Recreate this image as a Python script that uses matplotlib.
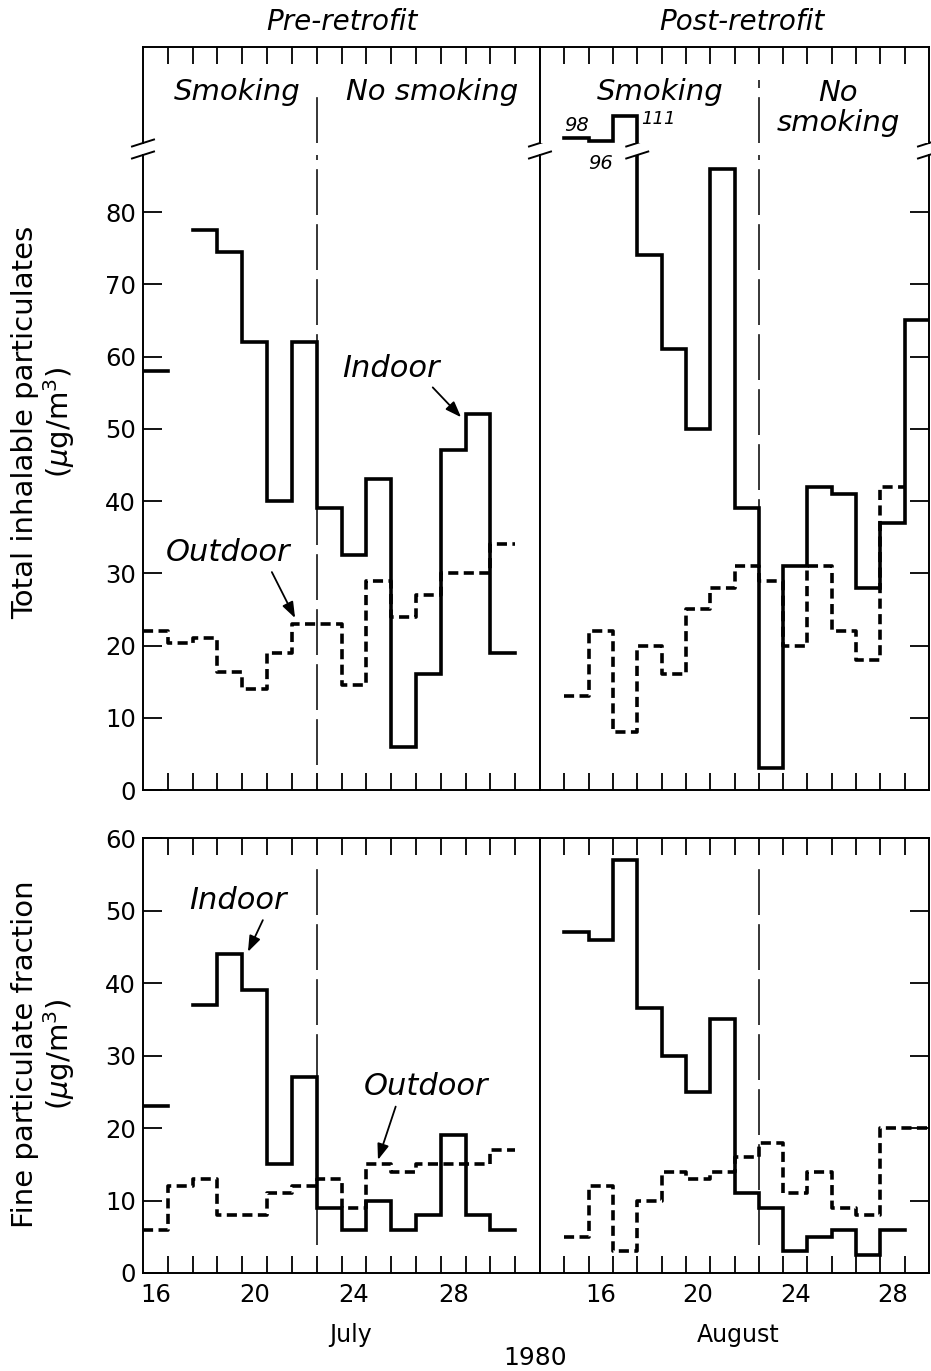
import numpy as np
import matplotlib.pyplot as plt
from matplotlib.lines import Line2D

plt.rcParams['font.family'] = 'DejaVu Sans'

# --------------------------------------------------------------
# Data (daily values, each value spans [day, day + 1])
# --------------------------------------------------------------

jul_days = np.arange(16, 31)
jul_tip_in = [58, np.nan, 77.5, 74.5, 62, 40, 62, 39, 32.5, 43, 6, 16, 47, 52, 19]
jul_tip_out = [22, 20.3, 21, 16.3, 14, 19, 23, 23, 14.5, 29, 24, 27, 30, 30, 34]
jul_fine_in = [23, np.nan, 37, 44, 39, 15, 27, 9, 6, 10, 6, 8, 19, 8, 6]
jul_fine_out = [6, 12, 13, 8, 8, 11, 12, 13, 9, 15, 14, 15, 15, 15, 17]

aug_days = np.arange(15, 30)
aug_tip_in = [98, 96, 111, 74, 61, 50, 86, 39, 3, 31, 42, 41, 28, 37, 65]
aug_tip_out = [13, 22, 8, 20, 16, 25, 28, 31, 29, 20, 31, 22, 18, 42, np.nan]
aug_fine_in = [47, 46, 57, 36.5, 30, 25, 35, 11, 9, 3, 5, 6, 2.5, 6, np.nan]
aug_fine_out = [5, 12, 3, 10, 14, 13, 14, 16, 18, 11, 14, 9, 8, 20, 20]

switch_day = 23
label_days = [16, 20, 24, 28]
jul_lim = (16, 32)
aug_lim = (14, 30)

# --------------------------------------------------------------
# Layout
# --------------------------------------------------------------

W, H = 931, 1371
fig = plt.figure(figsize=(W / 100, H / 100), dpi=100)


def box(x0, x1, y0, y1):
    # pixel box measured from the top-left corner -> figure rect
    return [x0 / W, 1 - y1 / H, (x1 - x0) / W, (y1 - y0) / H]


def px(x, y):
    return x / W, 1 - y / H


ax_tl_up = fig.add_axes(box(143, 540, 47, 143))
ax_tr_up = fig.add_axes(box(540, 929, 47, 143))
ax_tl = fig.add_axes(box(143, 540, 155, 790))
ax_tr = fig.add_axes(box(540, 929, 155, 790))
ax_bl = fig.add_axes(box(143, 540, 838, 1273))
ax_br = fig.add_axes(box(540, 929, 838, 1273))
ax_tr_up.set_zorder(3)  # keep the "96" label above the lower panel

IN = dict(color='k', lw=2.6, solid_joinstyle='miter')
OUT = dict(color='k', lw=2.6, ls=(0, (2.8, 1.5)), dash_capstyle='butt')
SEP = dict(color='k', lw=1.1, ls=(0, (30, 6)))
ARW = dict(arrowstyle='-|>,head_length=0.6,head_width=0.22', color='k',
           lw=1.3, shrinkA=2, shrinkB=0, mutation_scale=16)


def draw_steps(ax, days, vals, **kw):
    x = np.append(days, days[-1] + 1)
    y = np.append(vals, vals[-1])
    ax.step(x, y, where='post', **kw)


def setup(ax, xlim, top, bottom):
    ax.set_xlim(xlim)
    ax.set_xticks(np.arange(xlim[0] + 1, xlim[1]))
    ax.tick_params(axis='x', which='major', direction='in', length=12, width=1.3,
                   top=top, bottom=bottom, labelbottom=False)
    for s in ax.spines.values():
        s.set_linewidth(1.4)


# upper strip of the broken top panel
top_max = 87.9
for ax, lim in [(ax_tl_up, jul_lim), (ax_tr_up, aug_lim)]:
    setup(ax, lim, top=True, bottom=False)
    ax.set_ylim(95, 152)
    ax.set_yticks([])
    ax.spines['bottom'].set_visible(False)

# total inhalable particulates
for ax, lim in [(ax_tl, jul_lim), (ax_tr, aug_lim)]:
    setup(ax, lim, top=False, bottom=True)
    ax.set_ylim(0, top_max)
    ax.set_yticks(range(0, 81, 10))
    ax.spines['top'].set_visible(False)

# fine particulate fraction
for ax, lim in [(ax_bl, jul_lim), (ax_br, aug_lim)]:
    setup(ax, lim, top=True, bottom=True)
    ax.set_ylim(0, 60)
    ax.set_yticks(range(0, 61, 10))
    ax.set_xticks([d + 0.5 for d in label_days], labels=[str(d) for d in label_days], minor=True)
    ax.tick_params(axis='x', which='minor', length=0, pad=7, labelsize=17.5)

for ax in [ax_tl, ax_bl]:
    ax.tick_params(axis='y', direction='in', length=14, width=1.3, labelsize=17.5, pad=5)
for ax in [ax_tr, ax_br]:
    ax.tick_params(axis='y', direction='in', length=14, width=1.3,
                   left=False, right=True, labelleft=False)

# --------------------------------------------------------------
# Series
# --------------------------------------------------------------

draw_steps(ax_tl, jul_days, jul_tip_in, **IN)
draw_steps(ax_tl, jul_days, jul_tip_out, **OUT)
draw_steps(ax_tr_up, aug_days, aug_tip_in, **IN)
draw_steps(ax_tr, aug_days, aug_tip_in, **IN)
draw_steps(ax_tr, aug_days, aug_tip_out, **OUT)
draw_steps(ax_bl, jul_days, jul_fine_in, **IN)
draw_steps(ax_bl, jul_days, jul_fine_out, **OUT)
draw_steps(ax_br, aug_days, aug_fine_in, **IN)
draw_steps(ax_br, aug_days, aug_fine_out, **OUT)

# smoking / no smoking separators
ax_tl_up.axvline(switch_day, 0, 0.48, **SEP)
ax_tr_up.axvline(switch_day, 0, 0.66, **SEP)
for ax in [ax_tl, ax_tr]:
    ax.axvline(switch_day, 0.04, 1, **SEP)
for ax in [ax_bl, ax_br]:
    ax.axvline(switch_day, 0.064, 0.95, **SEP)

# values above the break
ax_tr_up.annotate('98', (aug_days[0] + 0.5, aug_tip_in[0]), xytext=(0, 9),
                  textcoords='offset points', ha='center', va='center',
                  fontsize=14, style='italic')
ax_tr_up.annotate('96', (aug_days[1] + 0.5, aug_tip_in[1]), xytext=(0, -16),
                  textcoords='offset points', ha='center', va='center',
                  fontsize=14, style='italic')
ax_tr_up.annotate('111', (aug_days[2] + 1, aug_tip_in[2]), xytext=(15, -2),
                  textcoords='offset points', ha='center', va='center',
                  fontsize=13, style='italic')

# --------------------------------------------------------------
# Axis breaks
# --------------------------------------------------------------

cross_day = aug_days[np.argmax(np.array(aug_tip_in) < top_max)]
cross_x = ax_tr.transData.transform((cross_day, 0))[0]
for x in [143, 540, 929, cross_x]:
    for y in [143, 155]:
        fig.add_artist(Line2D([(x - 11) / W, (x + 11) / W],
                              [1 - (y + 3.5) / H, 1 - (y - 3.5) / H],
                              transform=fig.transFigure, color='k', lw=1.4))

# --------------------------------------------------------------
# Text
# --------------------------------------------------------------

it = dict(ha='center', va='center', style='italic')
ax_tl_up.text(0.5, 1.26, 'Pre-retrofit', transform=ax_tl_up.transAxes, fontsize=20, **it)
ax_tr_up.text(0.52, 1.26, 'Post-retrofit', transform=ax_tr_up.transAxes, fontsize=20, **it)
ax_tl_up.text(0.237, 0.53, 'Smoking', transform=ax_tl_up.transAxes, fontsize=21, **it)
ax_tl_up.text(0.728, 0.53, 'No smoking', transform=ax_tl_up.transAxes, fontsize=21, **it)
ax_tr_up.text(0.308, 0.53, 'Smoking', transform=ax_tr_up.transAxes, fontsize=21, **it)
ax_tr_up.text(0.766, 0.365, 'No\nsmoking', transform=ax_tr_up.transAxes, fontsize=21,
              linespacing=1.1, **it)

ax_tl.annotate('Indoor', xy=(28.82, 51.6), xytext=(26.0, 58.4), fontsize=22,
               arrowprops=dict(ARW, relpos=(0.88, 0)), **it)
ax_tl.annotate('Outdoor', xy=(22.13, 23.8), xytext=(19.43, 32.9), fontsize=22,
               arrowprops=dict(ARW, relpos=(0.83, 0)), **it)
ax_bl.annotate('Indoor', xy=(20.23, 44.3), xytext=(19.83, 51.4), fontsize=22,
               arrowprops=dict(ARW, relpos=(0.78, 0)), **it)
ax_bl.annotate('Outdoor', xy=(25.47, 15.6), xytext=(27.41, 25.7), fontsize=22,
               arrowprops=dict(ARW, relpos=(0.27, 0)), **it)

fig.text(*px(44, 422), 'Total inhalable particulates\n($\\mu$g/m$^3$)', rotation=90,
         ha='center', va='center', multialignment='center', fontsize=21, linespacing=1.1)
fig.text(*px(44, 1054), 'Fine particulate fraction\n($\\mu$g/m$^3$)', rotation=90,
         ha='center', va='center', multialignment='center', fontsize=21, linespacing=1.1)

fig.text(*px(351, 1335), 'July', ha='center', va='center', fontsize=17)
fig.text(*px(738, 1335), 'August', ha='center', va='center', fontsize=17)
fig.text(*px(535, 1358), '1980', ha='center', va='center', fontsize=18)

fig.savefig('out.png', dpi=100)
